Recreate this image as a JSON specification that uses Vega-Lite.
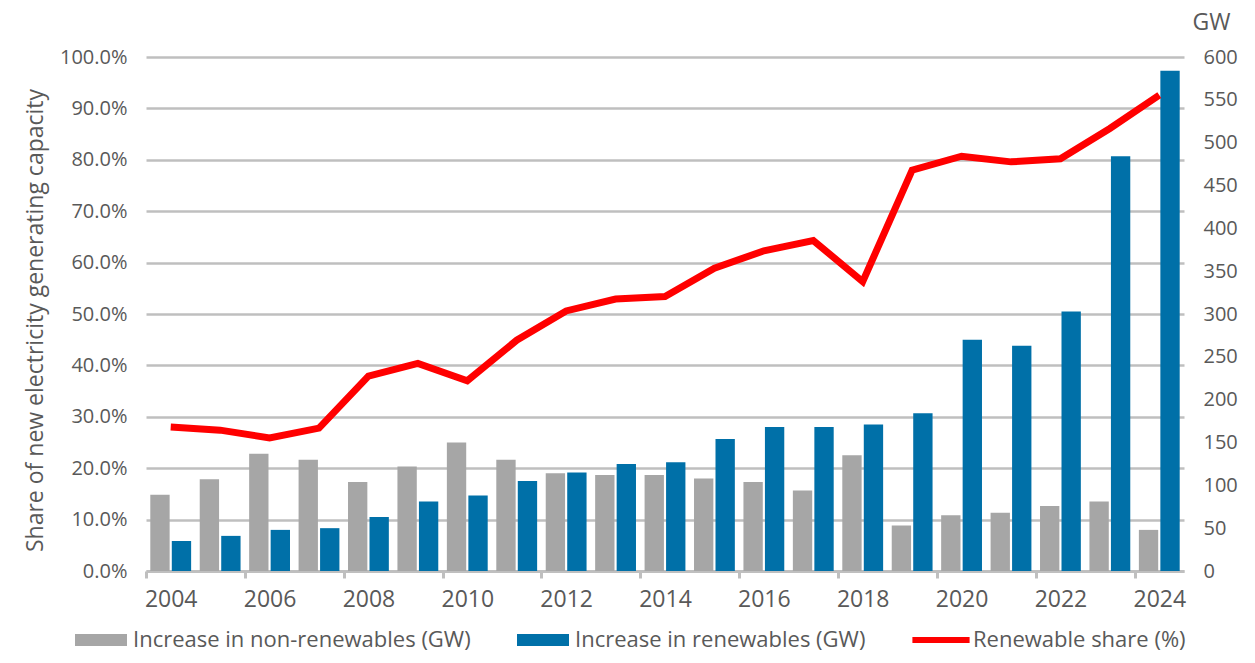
{
  "$schema": "https://vega.github.io/schema/vega-lite/v6.json",
  "width": 1038,
  "height": 514,
  "autosize": {"type": "none"},
  "padding": {"left": 146, "top": 57, "right": 71, "bottom": 92},
  "background": "white",
  "config": {
    "view": {"stroke": null},
    "font": "Open Sans",
    "axis": {"labelColor": "#595959", "titleColor": "#595959", "labelFont": "Open Sans", "titleFont": "Open Sans", "labelFontSize": 20, "titleFontWeight": "normal"},
    "legend": {"labelFont": "Open Sans", "labelColor": "#595959", "labelFontSize": 22}
  },
  "datasets": {
    "bars": [
      {"year": 2004, "series": "Increase in non-renewables (GW)", "gw": 89},
      {"year": 2005, "series": "Increase in non-renewables (GW)", "gw": 107},
      {"year": 2006, "series": "Increase in non-renewables (GW)", "gw": 137},
      {"year": 2007, "series": "Increase in non-renewables (GW)", "gw": 130},
      {"year": 2008, "series": "Increase in non-renewables (GW)", "gw": 104},
      {"year": 2009, "series": "Increase in non-renewables (GW)", "gw": 122},
      {"year": 2010, "series": "Increase in non-renewables (GW)", "gw": 150},
      {"year": 2011, "series": "Increase in non-renewables (GW)", "gw": 130},
      {"year": 2012, "series": "Increase in non-renewables (GW)", "gw": 114},
      {"year": 2013, "series": "Increase in non-renewables (GW)", "gw": 112},
      {"year": 2014, "series": "Increase in non-renewables (GW)", "gw": 112},
      {"year": 2015, "series": "Increase in non-renewables (GW)", "gw": 108},
      {"year": 2016, "series": "Increase in non-renewables (GW)", "gw": 104},
      {"year": 2017, "series": "Increase in non-renewables (GW)", "gw": 94},
      {"year": 2018, "series": "Increase in non-renewables (GW)", "gw": 135},
      {"year": 2019, "series": "Increase in non-renewables (GW)", "gw": 53},
      {"year": 2020, "series": "Increase in non-renewables (GW)", "gw": 65},
      {"year": 2021, "series": "Increase in non-renewables (GW)", "gw": 68},
      {"year": 2022, "series": "Increase in non-renewables (GW)", "gw": 76},
      {"year": 2023, "series": "Increase in non-renewables (GW)", "gw": 81},
      {"year": 2024, "series": "Increase in non-renewables (GW)", "gw": 48},
      {"year": 2004, "series": "Increase in renewables (GW)", "gw": 35},
      {"year": 2005, "series": "Increase in renewables (GW)", "gw": 41},
      {"year": 2006, "series": "Increase in renewables (GW)", "gw": 48},
      {"year": 2007, "series": "Increase in renewables (GW)", "gw": 50},
      {"year": 2008, "series": "Increase in renewables (GW)", "gw": 63},
      {"year": 2009, "series": "Increase in renewables (GW)", "gw": 81},
      {"year": 2010, "series": "Increase in renewables (GW)", "gw": 88},
      {"year": 2011, "series": "Increase in renewables (GW)", "gw": 105},
      {"year": 2012, "series": "Increase in renewables (GW)", "gw": 115},
      {"year": 2013, "series": "Increase in renewables (GW)", "gw": 125},
      {"year": 2014, "series": "Increase in renewables (GW)", "gw": 127},
      {"year": 2015, "series": "Increase in renewables (GW)", "gw": 154},
      {"year": 2016, "series": "Increase in renewables (GW)", "gw": 168},
      {"year": 2017, "series": "Increase in renewables (GW)", "gw": 168},
      {"year": 2018, "series": "Increase in renewables (GW)", "gw": 171},
      {"year": 2019, "series": "Increase in renewables (GW)", "gw": 184},
      {"year": 2020, "series": "Increase in renewables (GW)", "gw": 270},
      {"year": 2021, "series": "Increase in renewables (GW)", "gw": 263},
      {"year": 2022, "series": "Increase in renewables (GW)", "gw": 303},
      {"year": 2023, "series": "Increase in renewables (GW)", "gw": 484},
      {"year": 2024, "series": "Increase in renewables (GW)", "gw": 584}
    ],
    "share": [
      {"year": 2004, "share": 0.280},
      {"year": 2005, "share": 0.274},
      {"year": 2006, "share": 0.259},
      {"year": 2007, "share": 0.278},
      {"year": 2008, "share": 0.379},
      {"year": 2009, "share": 0.404},
      {"year": 2010, "share": 0.370},
      {"year": 2011, "share": 0.449},
      {"year": 2012, "share": 0.506},
      {"year": 2013, "share": 0.529},
      {"year": 2014, "share": 0.534},
      {"year": 2015, "share": 0.589},
      {"year": 2016, "share": 0.623},
      {"year": 2017, "share": 0.643},
      {"year": 2018, "share": 0.563},
      {"year": 2019, "share": 0.780},
      {"year": 2020, "share": 0.807},
      {"year": 2021, "share": 0.796},
      {"year": 2022, "share": 0.802},
      {"year": 2023, "share": 0.861},
      {"year": 2024, "share": 0.926}
    ]
  },
  "layer": [
    {
      "data": {"name": "bars"},
      "mark": {"type": "bar"},
      "encoding": {
        "x": {
          "field": "year", "type": "ordinal", "title": null,
          "scale": {"paddingInner": 0, "paddingOuter": 0},
          "axis": {
            "values": [2004, 2006, 2008, 2010, 2012, 2014, 2016, 2018, 2020, 2022, 2024],
            "tickOffset": -24.714, "labelOffset": 24.714, "labelAngle": 0,
            "labelFontSize": 23,
            "domainColor": "#BFBFBF", "domainWidth": 3,
            "tickColor": "#BFBFBF", "tickWidth": 3, "tickSize": 7,
            "labelPadding": 10, "grid": false,
            "encode": {"ticks": {"update": {"y": {"value": -8}, "y2": {"value": 7}}}}
          }
        },
        "xOffset": {
          "field": "series", "type": "nominal",
          "scale": {"domain": ["Increase in non-renewables (GW)", "Increase in renewables (GW)"], "paddingInner": 0.1, "paddingOuter": 0.2}
        },
        "y": {
          "field": "gw", "type": "quantitative", "title": "GW",
          "scale": {"domain": [0, 600]},
          "axis": {
            "orient": "right", "grid": false, "ticks": false, "domain": false,
            "values": [0, 50, 100, 150, 200, 250, 300, 350, 400, 450, 500, 550, 600],
            "labelPadding": 19, "titleAngle": 0, "titleAlign": "left", "titleBaseline": "middle",
            "titleX": 8, "titleY": -35, "titleFontSize": 23
          }
        },
        "color": {
          "field": "series", "type": "nominal",
          "scale": {
            "domain": ["Increase in non-renewables (GW)", "Increase in renewables (GW)", "Renewable share (%)"],
            "range": ["#A6A6A6", "#0070A8", "#FF0000"]
          },
          "legend": {
            "title": null, "orient": "none", "direction": "horizontal",
            "legendX": -71, "legendY": 557, "padding": 0,
            "symbolType": "M-1,-0.23H1V0.23H-1Z", "symbolSize": 2704, "symbolStrokeWidth": 0,
            "labelOffset": 6, "columnPadding": 46, "labelLimit": 0,
            "encode": {
              "symbols": {
                "update": {
                  "shape": {"signal": "datum.value === 'Renewable share (%)' ? 'M-1.1,-0.12H1.1V0.12H-1.1Z' : 'M-1,-0.23H1V0.23H-1Z'"}
                }
              }
            }
          }
        }
      }
    },
    {
      "data": {"name": "share"},
      "mark": {"type": "line", "color": "#FF0000", "strokeWidth": 7},
      "encoding": {
        "x": {"field": "year", "type": "ordinal"},
        "y": {
          "field": "share", "type": "quantitative",
          "title": "Share of new electricity generating capacity",
          "scale": {"domain": [0, 1]},
          "axis": {
            "orient": "left", "format": ".1%",
            "values": [0, 0.1, 0.2, 0.3, 0.4, 0.5, 0.6, 0.7, 0.8, 0.9, 1.0],
            "grid": true, "gridColor": "#BFBFBF", "gridWidth": 2.5,
            "ticks": false, "domain": false, "labelPadding": 19,
            "titleFontSize": 23, "titleAngle": -90, "titleX": -111, "titleY": 263,
            "titleAlign": "center", "titleBaseline": "middle"
          }
        }
      }
    }
  ],
  "resolve": {"scale": {"y": "independent"}}
}
